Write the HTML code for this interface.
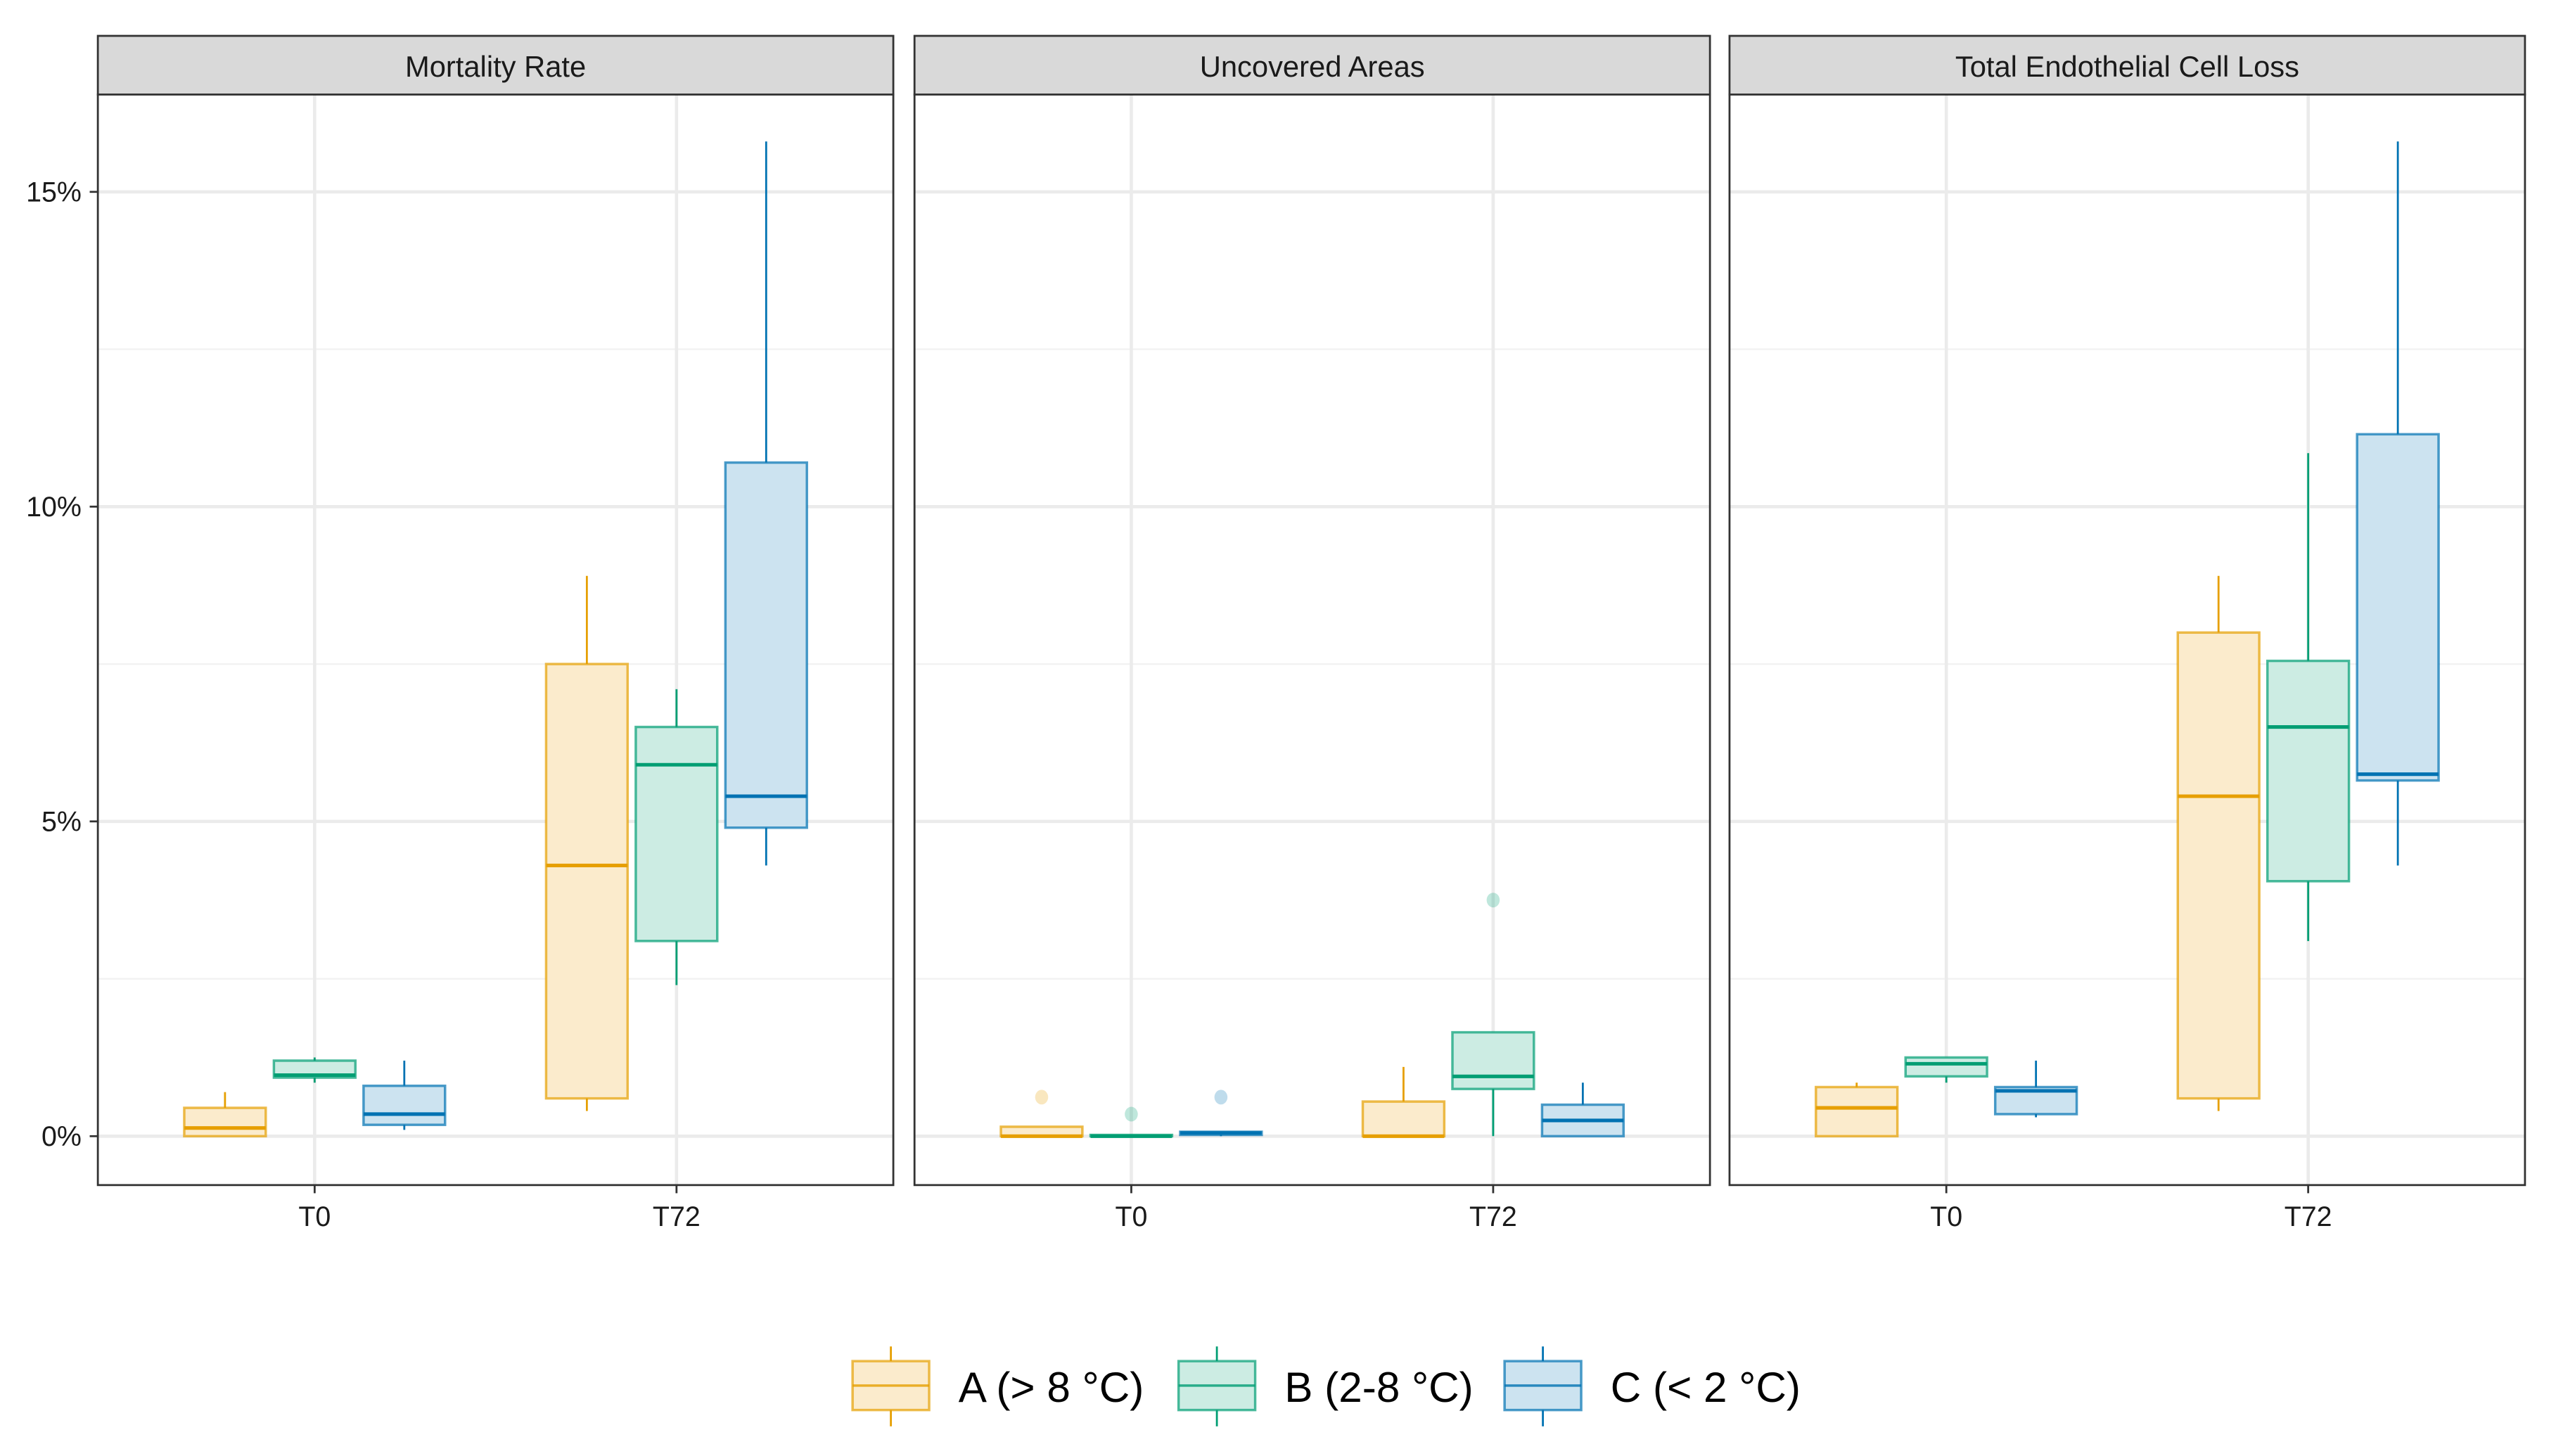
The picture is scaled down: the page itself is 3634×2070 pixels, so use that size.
<!DOCTYPE html>
<html><head><meta charset="utf-8"><style>
html,body{margin:0;padding:0;background:#fff;}
svg{display:block;}
text{font-family:"Liberation Sans",Arial,sans-serif;}
</style></head><body>
<svg id="chart" width="3634" height="2070" viewBox="0 0 1568 893.2" xmlns="http://www.w3.org/2000/svg"></svg>
<script>
const panelTitles = ["Mortality Rate","Uncovered Areas","Total Endothelial Cell Loss"];
const timepoints = ["T0","T72"];
const groups = ["A (> 8 °C)","B (2-8 °C)","C (< 2 °C)"];
const yTicks = [0,5,10,15];
const yTickLabels = ["0%","5%","10%","15%"];
// [time][group] = [lowWhisker, q1, median, q3, highWhisker]
const mortalityStats = [
  [[0,0,0.13,0.45,0.7],[0.85,0.93,0.97,1.2,1.25],[0.1,0.18,0.35,0.8,1.2]],
  [[0.4,0.6,4.3,7.5,8.9],[2.4,3.1,5.9,6.5,7.1],[4.3,4.9,5.4,10.7,15.8]]
];
const uncoveredStats = [
  [[0,0,0,0.15,0.15],[0,0,0,0.02,0.02],[0,0.02,0.05,0.07,0.07]],
  [[0,0,0,0.55,1.1],[0,0.75,0.95,1.65,1.65],[0,0,0.25,0.5,0.85]]
];
const totalStats = [
  [[0,0,0.45,0.78,0.85],[0.85,0.95,1.15,1.25,1.25],[0.3,0.35,0.72,0.78,1.2]],
  [[0.4,0.6,5.4,8.0,8.9],[3.1,4.05,6.5,7.55,10.85],[4.3,5.65,5.75,11.15,15.8]]
];
const stats = [mortalityStats, uncoveredStats, totalStats];
// outliers: [panel, time, group, value]
const outliers = [[1,0,0,0.62],[1,0,1,0.35],[1,0,2,0.62],[1,1,1,3.75]];

const strokeCols = ["#E69F00","#009E73","#0072B2"];
const fillCols = ["#FBEBCC","#CCECE3","#CCE3F0"];
const NS="http://www.w3.org/2000/svg";
const svgEl=document.getElementById('chart');
function mk(tag,attrs,parent){const e=document.createElementNS(NS,tag);for(const k in attrs)e.setAttribute(k,attrs[k]);(parent||svgEl).appendChild(e);return e;}
const panelX=[60,561,1061], panelW=488, panelTop=58, panelBottom=727, stripTop=22;
function yScale(v){return 697 - v*38.62;}
function xCat(p,t){return panelX[p] + 133 + t*222;}
const off=[-55,0,55], bw=50;

panelTitles.forEach((title,p)=>{
  const g=mk('g',{});
  
  
  const px=panelX[p];
  const strip=mk('rect',{x:px,y:stripTop,width:panelW,height:panelTop-stripTop,fill:'#D9D9D9',stroke:'#333','stroke-width':1.2},g);
  
  
  const st=mk('text',{x:px+panelW/2,y:47,'text-anchor':'middle','font-size':18,fill:'#1a1a1a'},g);
  st.textContent=title;
  
  
  mk('rect',{x:px,y:panelTop,width:panelW,height:panelBottom-panelTop,fill:'#fff'},g);
  for(let i=0;i<yTicks.length-1;i++){
    const mv=(yTicks[i]+yTicks[i+1])/2;
    mk('line',{x1:px,x2:px+panelW,y1:yScale(mv),y2:yScale(mv),stroke:'#F2F2F2','stroke-width':1},g);
  }
  yTicks.forEach(v=>{const l=mk('line',{x1:px,x2:px+panelW,y1:yScale(v),y2:yScale(v),stroke:'#EBEBEB','stroke-width':2},g);
    
    });
  timepoints.forEach((tp,t)=>{
    const cx=xCat(p,t);
    mk('line',{x1:cx,x2:cx,y1:panelTop,y2:panelBottom,stroke:'#EBEBEB','stroke-width':2},g);
    mk('line',{x1:cx,x2:cx,y1:panelBottom,y2:panelBottom+5,stroke:'#333','stroke-width':1.2},g);
    const lt=mk('text',{x:cx,y:752,'text-anchor':'middle','font-size':17,fill:'#1a1a1a'},g);
    lt.textContent=tp;
    
    
    groups.forEach((gr,k)=>{
      const s=stats[p][t][k];
      const bx=cx+off[k];
      const bg=mk('g',{},g);
      
      
      mk('line',{x1:bx,x2:bx,y1:yScale(s[0]),y2:yScale(s[1]),stroke:strokeCols[k],'stroke-width':1.2},bg);
      mk('line',{x1:bx,x2:bx,y1:yScale(s[3]),y2:yScale(s[4]),stroke:strokeCols[k],'stroke-width':1.2},bg);
      mk('rect',{x:bx-bw/2,y:yScale(s[3]),width:bw,height:Math.max(yScale(s[1])-yScale(s[3]),0.5),fill:fillCols[k],stroke:strokeCols[k],'stroke-opacity':0.7,'stroke-width':1.5},bg);
      mk('line',{x1:bx-bw/2,x2:bx+bw/2,y1:yScale(s[2]),y2:yScale(s[2]),stroke:strokeCols[k],'stroke-width':2.2},bg);
    });
  });
  mk('rect',{x:px,y:panelTop,width:panelW,height:panelBottom-panelTop,fill:'none',stroke:'#333','stroke-width':1.2},g);
});
outliers.forEach(o=>{
  const c=mk('ellipse',{cx:xCat(o[0],o[1])+off[o[2]],cy:yScale(o[3]),rx:4,ry:4.5,fill:strokeCols[o[2]],'fill-opacity':0.25});
  
  
});
yTicks.forEach((v,i)=>{
  mk('line',{x1:55,x2:60,y1:yScale(v),y2:yScale(v),stroke:'#333','stroke-width':1.2});
  const t=mk('text',{x:50,y:yScale(v)+6,'text-anchor':'end','font-size':17,fill:'#1a1a1a'});
  t.textContent=yTickLabels[i];
  
  
});
const legX=[523,723,923];
groups.forEach((gr,k)=>{
  const lg=mk('g',{});
  
  
  const x0=legX[k], cx=x0+23.5;
  mk('line',{x1:cx,x2:cx,y1:826,y2:835,stroke:strokeCols[k],'stroke-width':1.2},lg);
  mk('line',{x1:cx,x2:cx,y1:865,y2:875,stroke:strokeCols[k],'stroke-width':1.2},lg);
  mk('rect',{x:x0,y:835,width:47,height:30,fill:fillCols[k],stroke:strokeCols[k],'stroke-opacity':0.7,'stroke-width':1.5},lg);
  mk('line',{x1:x0,x2:x0+47,y1:850,y2:850,stroke:strokeCols[k],'stroke-opacity':0.8,'stroke-width':1.5},lg);
  const t=mk('text',{x:x0+65,y:860,'font-size':26,fill:'#000'},lg);
  t.textContent=gr;
});
</script>
</body></html>
